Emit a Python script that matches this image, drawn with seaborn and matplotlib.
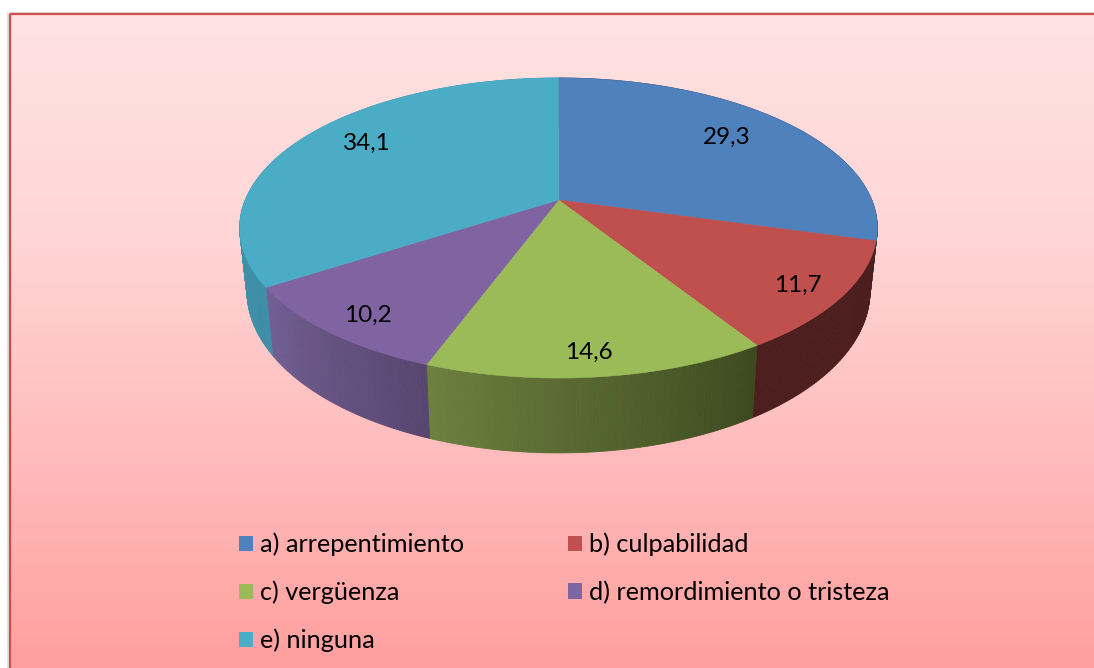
import numpy as np
import matplotlib
matplotlib.use("Agg")
import matplotlib.pyplot as plt
from matplotlib.colors import LinearSegmentedColormap
from matplotlib.patches import Polygon, Rectangle
import seaborn as sns

# Data
categories = ["a) arrepentimiento", "b) culpabilidad", "c) vergüenza",
              "d) remordimiento o tristeza", "e) ninguna"]
values = [29.3, 11.7, 14.6, 10.2, 34.1]

# Styles
top_colors = ["#4f81bd", "#c0504d", "#9bbb59", "#8064a2", "#4bacc6"]
wall_left = ["#2f4d72", "#4d1e1e", "#6b813f", "#725f93", "#4499b2"]
wall_right = ["#2f4d72", "#4d1e1e", "#3d4a1f", "#584671", "#3f8ea8"]
label_pos = [(727, 137), (798, 285), (589, 352), (368, 315), (367, 143)]

sns.set_theme(style="white")
plt.rcParams["font.family"] = ["Lato", "DejaVu Sans"]

W, H = 1094, 668
fig = plt.figure(figsize=(W / 100, H / 100), dpi=100)
ax = fig.add_axes([0, 0, 1, 1])
ax.set_xlim(0, W)
ax.set_ylim(H, 0)
ax.axis("off")

# Panel with vertical gradient
panel_cmap = LinearSegmentedColormap.from_list(
    "panel", ["#ffe2e2", "#ffd6d6", "#ffbcbc", "#ff9f9f"])
ax.add_patch(Rectangle((7, 12), W, H, color="#e4e0e0", lw=0, zorder=0))
ax.imshow(np.linspace(0, 1, 256).reshape(-1, 1), cmap=panel_cmap, aspect="auto",
          extent=(10, W, H, 14), zorder=1)
ax.set_xlim(0, W)
ax.set_ylim(H, 0)
ax.add_patch(Rectangle((10, 14), W, H, fill=False, ec="#c9504d", lw=1.6, zorder=2))


# Pie in perspective: unit circle through a projective map
K, A, B = 0.1866, 313.2, 144.8
CX, CY = 558.5, 200


def top_ring(theta):
    u, v = np.sin(theta), np.cos(theta)
    w = 1 + K * v
    return A * u / w, -B * v / w


def to_top(x, y):
    return CX + x, CY + y


def to_bottom(x, y):
    return CX + 0.977 * x, CY + 1.078 * y + 61


edges = np.cumsum([0] + values) / sum(values) * 2 * np.pi

# Side walls first, the top is painted over them
for i in range(len(values)):
    n = max(int((edges[i + 1] - edges[i]) / 0.01), 2)
    th = np.linspace(edges[i], edges[i + 1], n + 1)
    x, y = top_ring(th)
    shades = sns.blend_palette([wall_right[i], wall_left[i]], n)
    for j in range(n):
        xt, yt = to_top(x[j:j + 2], y[j:j + 2])
        xb, yb = to_bottom(x[j:j + 2], y[j:j + 2])
        pts = list(zip(xt, yt)) + list(zip(xb[::-1], yb[::-1]))
        ax.add_patch(Polygon(pts, fc=shades[j], ec=shades[j], lw=0.6, zorder=3))

# Top face
for i in range(len(values)):
    th = np.linspace(edges[i], edges[i + 1], 200)
    x, y = top_ring(th)
    xt, yt = to_top(x, y)
    ax.fill(np.r_[CX, xt], np.r_[CY, yt], fc=top_colors[i], ec=top_colors[i],
            lw=0.4, zorder=4)

for v, (px, py) in zip(values, label_pos):
    ax.text(px, py, f"{v:.1f}".replace(".", ","), ha="center", va="center",
            fontsize=17.5, color="black", zorder=5)

# Legend: columns are filled first, so hand it a, c, e, b, d
order = [0, 2, 4, 1, 3]
handles = [Rectangle((0, 0), 1, 1, fc=top_colors[i], lw=0) for i in order]
ax.legend(handles, [categories[i] for i in order], ncols=2, frameon=False,
          loc="upper left", bbox_to_anchor=(234 / W, 1 - 527.5 / H),
          fontsize=18.2, labelcolor="black", handlelength=0.56, handleheight=0.56,
          handletextpad=0.25, labelspacing=0.97, columnspacing=4.14,
          borderpad=0.2, borderaxespad=0)

fig.savefig("out.png", dpi=100)
